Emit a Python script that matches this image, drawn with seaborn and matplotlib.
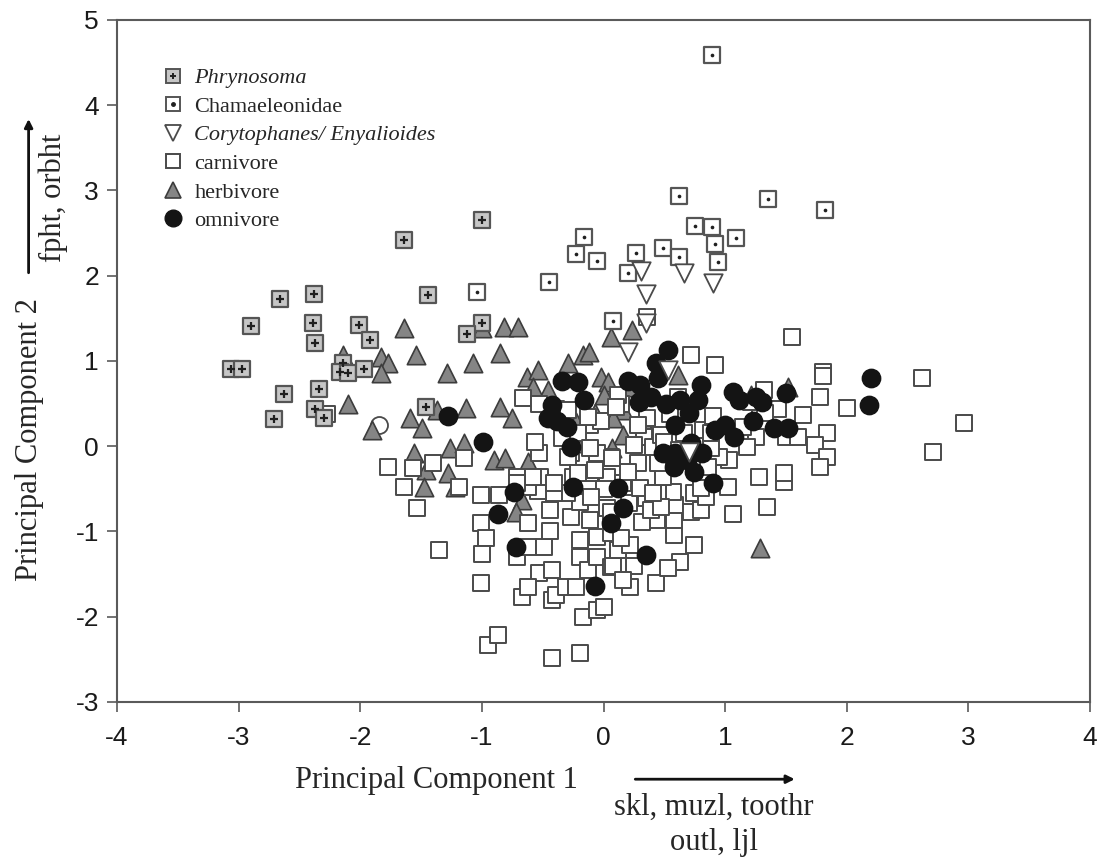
import numpy as np
import pandas as pd
import seaborn as sns
import matplotlib.pyplot as plt
from matplotlib.lines import Line2D

sns.set_style("white")
plt.rcParams["font.family"] = ["Liberation Serif", "DejaVu Serif"]
plt.rcParams["axes.unicode_minus"] = False

## --- Data
phry_x = [-1.0, -1.64, -2.66, -2.38, -1.44, -2.9, -2.39, -2.37, -2.01, -1.92, -1.0, -1.12,
          -3.06, -2.97, -2.14, -2.17, -2.1, -1.97, -2.34, -2.63, -2.71, -2.37, -2.3, -1.46]
phry_y = [2.65, 2.42, 1.72, 1.78, 1.77, 1.41, 1.44, 1.21, 1.42, 1.24, 1.45, 1.32,
          0.9, 0.9, 0.98, 0.87, 0.86, 0.91, 0.67, 0.61, 0.32, 0.44, 0.33, 0.46]

cham_x = [0.89, 0.62, 1.35, 1.82, 0.75, 0.89, 0.92, 1.09, 0.94, 0.49, 0.62, 0.27, 0.2,
          -0.16, -0.23, -0.05, -0.45, -1.04, 0.08]
cham_y = [4.59, 2.93, 2.9, 2.77, 2.58, 2.57, 2.37, 2.44, 2.16, 2.32, 2.22, 2.26, 2.03,
          2.45, 2.25, 2.17, 1.92, 1.81, 1.47]

cory_x = [0.31, 0.66, 0.9, 0.35, 0.35, 0.2, 0.53, 0.7]
cory_y = [2.05, 2.03, 1.91, 1.79, 1.44, 1.1, 0.89, -0.07]

carn_x = [-1.77, -1.64, -1.53, -1.57, -1.4, -1.15, -1.19, -1.35, -1.01, -1.01, -0.86, -1.01,
          -0.97, -1.0, -0.95, -0.87, -0.42, -0.19, -0.17, -0.05, 0.0, -0.67, -0.53, -0.42,
          -0.39, -0.42, -0.62, -0.31, -0.71, -0.62, -0.49, -0.62, -0.44, -0.44, -0.27, -0.19,
          -0.19, -0.13, -0.23, -0.05, 0.06, -0.05, 0.06, -0.11, 0.03, -0.19, -0.3, -0.41,
          -0.54, -0.62, -0.71, -0.52, -0.41, -0.25, -0.11, 0.03, 0.06, -0.05, -0.27, -0.53,
          -0.56,
          1.06, 1.34, 1.48, 1.02, 0.74, 0.63, 0.43, 0.22, 0.53, 0.58, 0.25, 0.08, 0.16, 0.12,
          0.22, 0.14, 0.58, 0.44, 0.32, 0.59, 0.72, 0.8, 0.74, 0.57, 0.45, 0.35, 0.21, 0.06,
          0.39, 0.47,
          1.55, 0.72, 0.92, 1.8, 1.78, 2.0, 1.64, 1.84, 1.74, 1.84, 1.78, 1.48, 1.5, 1.6,
          1.29, 2.62, 2.96, 2.71, 1.32, 1.43, 1.33, 1.21, 1.25, 1.18, 1.03, 0.95, 0.88, 0.86,
          0.84, 1.15, 0.82, 1.8, 1.28,
          -0.66, -0.53, -0.39, -0.29, -0.11, -0.21, -0.34, -0.29, -0.11, 0.07, -0.07, -0.21,
          -0.58, -0.71, 0.33, 0.25, 0.41, 0.28, 0.16, 0.3, 0.41, 0.49, 0.8, 0.88, 0.66, 0.47,
          0.14, 0.12, 0.61, -0.02, -0.13, 0.36, 0.28, 0.1,
          0.36, -2.27, 0.5, 0.62, 0.2, 0.45, 0.0, -0.1, 0.9, 0.55]
carn_y = [-0.25, -0.48, -0.72, -0.26, -0.2, -0.14, -0.48, -1.22, -1.6, -0.57, -0.57, -0.9,
          -1.08, -1.26, -2.33, -2.22, -2.49, -2.43, -2.0, -1.92, -1.89, -1.77, -1.49, -1.8,
          -1.75, -1.45, -1.65, -1.65, -1.3, -1.18, -1.18, -0.9, -0.75, -0.99, -0.83, -1.1,
          -1.3, -1.45, -1.65, -1.3, -1.42, -1.07, -1.02, -0.87, -0.72, -0.66, -0.55, -0.55,
          -0.52, -0.48, -0.36, -0.36, -0.43, -0.36, -0.32, -0.36, -0.13, -0.08, -0.08, -0.08,
          0.05,
          -0.79, -0.71, -0.42, -0.48, -1.16, -1.36, -1.61, -1.65, -1.43, -1.04, -1.4, -1.4,
          -1.57, -1.22, -1.16, -1.08, -0.87, -0.87, -0.89, -0.69, -0.77, -0.75, -0.55, -0.54,
          -0.55, -0.61, -0.67, -0.77, -0.75, -0.71,
          1.28, 1.07, 0.95, 0.87, 0.58, 0.45, 0.36, 0.16, 0.01, -0.13, -0.25, -0.32, 0.11,
          0.11, 0.46, 0.8, 0.27, -0.07, 0.66, 0.44, 0.39, 0.52, 0.11, -0.01, -0.16, -0.13,
          -0.02, -0.25, -0.6, 0.22, 0.19, 0.82, -0.36,
          0.56, 0.5, 0.44, 0.42, 0.25, 0.15, 0.09, -0.13, -0.02, -0.14, -0.28, -0.32, -0.36,
          -0.43, 0.11, 0.01, -0.01, -0.2, -0.43, -0.49, -0.55, -0.36, -0.49, 0.15, 0.16, 0.13,
          0.5, 0.6, 0.58, 0.3, 0.34, 0.33, 0.25, 0.46,
          1.52, 0.38, 0.05, -0.05, -0.3, -0.2, -0.5, -0.6, 0.35, 0.38]

herb_x = [-1.64, -0.82, -0.7, -1.0, -0.85, -1.07, -1.29, -1.54, -1.83, -1.77, -1.83, -2.14,
          -2.1, -1.9, -1.59, -1.49, -1.37, -1.13, -0.85, -0.75, -0.63, -1.56, -1.46, -1.28,
          -1.48, -1.26, -1.15, -0.9, -0.81, -1.22,
          -0.54, -0.58, -0.46, -0.29, -0.17, -0.12, 0.06, 0.23, -0.02, 0.04, 0.0, 0.2, 0.61,
          0.16, 0.08, -0.07, -0.23, 0.16, 0.07, 0.33, -0.17, -0.62, -0.67, -0.72,
          1.29, 1.52, 1.21]
herb_y = [1.38, 1.4, 1.4, 1.38, 1.09, 0.97, 0.86, 1.07, 1.05, 0.97, 0.86, 1.07,
          0.5, 0.19, 0.33, 0.21, 0.42, 0.45, 0.46, 0.33, 0.81, -0.08, -0.28, -0.32,
          -0.48, -0.02, 0.04, -0.16, -0.14, -0.48,
          0.89, 0.69, 0.66, 0.97, 1.07, 1.1, 1.28, 1.36, 0.81, 0.75, 0.6, 0.69, 0.83,
          0.42, 0.33, 0.39, 0.28, 0.13, -0.02, 0.27, 0.04, -0.19, -0.63, -0.77,
          -1.2, 0.69, 0.6]

omni_x = [0.53, 0.43, -0.34, -0.21, 0.2, 0.3, 0.45, 0.39, 0.29, 0.51, 0.63, 0.8, 0.78, 0.7,
          -0.16, -0.42, -0.46, -0.38, -0.3, -0.27, 0.59, 0.49, 0.59, 0.72, 0.81, 0.69, 0.58,
          0.74, 0.9, 0.92, -0.99, -0.74, -0.87, -0.25, 0.12, 0.16, 2.2, 2.18, 1.06, 1.11,
          1.25, 1.3, 1.5, 1.0, 1.07, 1.23, 1.4, 1.52, -0.72, -0.07, 0.35, 0.06, -1.28]
omni_y = [1.13, 0.97, 0.77, 0.75, 0.77, 0.72, 0.8, 0.58, 0.52, 0.5, 0.54, 0.72, 0.54, 0.39,
          0.54, 0.48, 0.33, 0.3, 0.22, -0.01, 0.25, -0.08, -0.08, 0.04, -0.08, -0.16, -0.25,
          -0.3, -0.43, 0.19, 0.05, -0.54, -0.79, -0.48, -0.49, -0.72, 0.8, 0.48, 0.63, 0.54,
          0.58, 0.52, 0.62, 0.25, 0.11, 0.3, 0.21, 0.21, -1.18, -1.64, -1.28, -0.9, 0.35]

open_x = [-1.85]
open_y = [0.25]

labels = ["Phrynosoma", "Chamaeleonidae", "Corytophanes/ Enyalioides",
          "carnivore", "herbivore", "omnivore"]
## ---

EDGE = "#4a4a4a"

fig, ax = plt.subplots(figsize=(11, 8.61), dpi=100)
fig.subplots_adjust(left=0.1064, right=0.991, top=0.977, bottom=0.1847)

sns.scatterplot(x=open_x, y=open_y, marker="o", s=150, color="white",
                edgecolor=EDGE, linewidth=1.3, ax=ax, zorder=2)
sns.scatterplot(x=herb_x, y=herb_y, marker="^", s=175, color="#858585",
                edgecolor="#3c3c3c", linewidth=1.2, ax=ax, zorder=3)
sns.scatterplot(x=carn_x, y=carn_y, marker="s", s=140, color="white",
                edgecolor=EDGE, linewidth=1.4, ax=ax, zorder=4)
sns.scatterplot(x=omni_x, y=omni_y, marker="o", s=175, color="#141414",
                edgecolor="#141414", linewidth=1.0, ax=ax, zorder=5)
sns.scatterplot(x=phry_x, y=phry_y, marker="s", s=140, color="#c6c6c6",
                edgecolor="#555555", linewidth=1.6, ax=ax, zorder=6)
sns.scatterplot(x=phry_x, y=phry_y, marker="+", s=30, color="#202020",
                linewidth=1.6, ax=ax, zorder=7)
sns.scatterplot(x=cham_x, y=cham_y, marker="s", s=140, color="white",
                edgecolor="#555555", linewidth=1.6, ax=ax, zorder=6)
sns.scatterplot(x=cham_x, y=cham_y, marker="o", s=7, color="#202020",
                edgecolor="#202020", linewidth=0, ax=ax, zorder=7)
sns.scatterplot(x=cory_x, y=cory_y, marker="v", s=175, color="white",
                edgecolor=EDGE, linewidth=1.3, ax=ax, zorder=6)

ax.set_xlim(-4, 4)
ax.set_ylim(-3, 5)
ax.set_xticks(range(-4, 5))
ax.set_yticks(range(-3, 6))
for sp in ax.spines.values():
    sp.set_color("#5a5a5a")
    sp.set_linewidth(1.5)
ax.tick_params(direction="out", length=7, width=1.2, color="#5a5a5a",
               labelsize=19, labelcolor="#1a1a1a", bottom=True, left=True)
ax.tick_params(axis="x", pad=10)
ax.tick_params(axis="y", pad=6)
for t in ax.get_xticklabels() + ax.get_yticklabels():
    t.set_fontfamily(["Liberation Sans", "DejaVu Sans"])
ax.set_xlabel("")
ax.set_ylabel("")

# legend
h_phry = (Line2D([], [], ls="none", marker="s", ms=10, mfc="#c6c6c6", mec="#555555", mew=1.4),
          Line2D([], [], ls="none", marker="+", ms=5, mec="#202020", mew=1.4))
h_cham = (Line2D([], [], ls="none", marker="s", ms=10, mfc="white", mec="#555555", mew=1.4),
          Line2D([], [], ls="none", marker="o", ms=2.5, mfc="#202020", mec="#202020"))
h_cory = Line2D([], [], ls="none", marker="v", ms=12, mfc="white", mec=EDGE, mew=1.3)
h_carn = Line2D([], [], ls="none", marker="s", ms=10, mfc="white", mec=EDGE, mew=1.4)
h_herb = Line2D([], [], ls="none", marker="^", ms=12, mfc="#858585", mec="#3c3c3c", mew=1.2)
h_omni = Line2D([], [], ls="none", marker="o", ms=12, mfc="#141414", mec="#141414")
leg = ax.legend([h_phry, h_cham, h_cory, h_carn, h_herb, h_omni], labels,
                loc="upper left", bbox_to_anchor=(0.035, 0.946), frameon=False,
                fontsize=16, handlelength=1.0, handletextpad=0.45, labelspacing=0.36,
                borderpad=0)
for i, t in enumerate(leg.get_texts()):
    if i in (0, 2):
        t.set_fontstyle("italic")

# axis titles and loading arrows
fig.text(0.397, 0.094, "Principal Component 1", fontsize=22, ha="center", va="center")
fig.text(0.649, 0.062, "skl, muzl, toothr", fontsize=22, ha="center", va="center")
fig.text(0.649, 0.021, "outl, ljl", fontsize=22, ha="center", va="center")
ax.annotate("", xy=(0.725, 0.095), xytext=(0.575, 0.095), xycoords="figure fraction",
            arrowprops=dict(arrowstyle="-|>", color="#111111", lw=2, mutation_scale=12))

fig.text(0.027, 0.49, "Principal Component 2", fontsize=22, rotation=90,
         ha="center", va="center")
fig.text(0.048, 0.77, "fpht, orbht", fontsize=22, rotation=90, ha="center", va="center")
ax.annotate("", xy=(0.026, 0.865), xytext=(0.026, 0.68), xycoords="figure fraction",
            arrowprops=dict(arrowstyle="-|>", color="#111111", lw=2, mutation_scale=12))

fig.savefig("out.png", dpi=100)
